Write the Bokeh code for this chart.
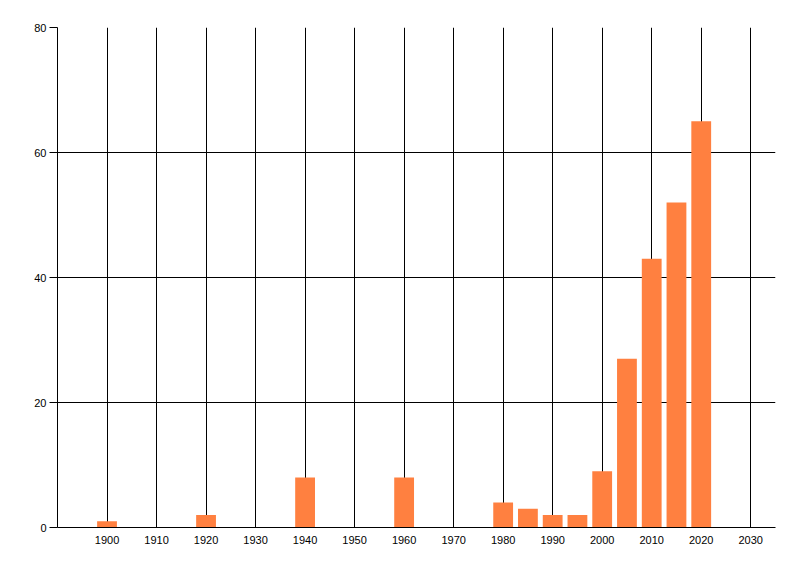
from bokeh.plotting import figure
from bokeh.models import ColumnDataSource, FixedTicker, Range1d
from bokeh.embed import file_html
from bokeh.resources import INLINE

years = [1900, 1920, 1940, 1960, 1980, 1985, 1990, 1995, 2000, 2005, 2010, 2015, 2020]
counts = [1, 2, 8, 8, 4, 3, 2, 2, 9, 27, 43, 52, 65]
x_ticks = list(range(1900, 2031, 10))
y_ticks = [0, 20, 40, 60, 80]

src = ColumnDataSource(dict(year=years, count=counts))

p = figure(width=792, height=568, output_backend="svg", toolbar_location=None,
           x_range=Range1d(1890, 2035), y_range=Range1d(0, 80),
           min_border_left=57, min_border_right=17, min_border_top=27, min_border_bottom=41)
p.outline_line_color = None
p.background_fill_color = "white"
p.border_fill_color = "white"

p.vbar(x="year", top="count", width=4, bottom=0, source=src,
       fill_color="#FF8040", line_color=None)

for ax in (p.xaxis[0], p.yaxis[0]):
    ax.axis_line_color = "black"
    ax.axis_line_width = 1
    ax.major_label_text_font = "Liberation Sans"
    ax.major_label_text_font_size = "11px"
    ax.major_label_text_color = "black"
    ax.minor_tick_line_color = None
    ax.major_tick_line_color = "black"

p.xaxis.ticker = FixedTicker(ticks=x_ticks)
p.xaxis.major_tick_out = 0
p.xaxis.major_tick_in = 0
p.xaxis.major_label_standoff = 8

p.yaxis.ticker = FixedTicker(ticks=y_ticks)
p.yaxis.major_tick_out = 8
p.yaxis.major_tick_in = 0
p.yaxis.major_label_standoff = 3

p.xgrid.ticker = FixedTicker(ticks=x_ticks)
p.ygrid.ticker = FixedTicker(ticks=y_ticks)
for g in (p.xgrid[0], p.ygrid[0]):
    g.grid_line_color = "black"
    g.grid_line_width = 1
    g.grid_line_alpha = 1.0

open("out.html", "w").write(file_html(p, INLINE))
